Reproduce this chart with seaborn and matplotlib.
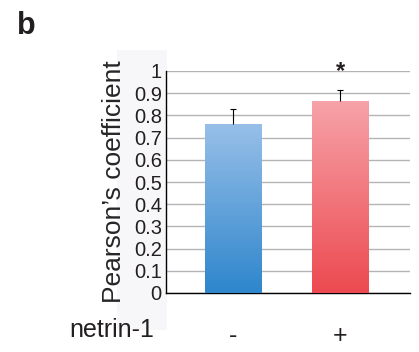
import numpy as np
import pandas as pd
import seaborn as sns
import matplotlib.pyplot as plt
from matplotlib.colors import LinearSegmentedColormap

# data
conditions = ['-', '+']
means = [0.76, 0.865]
errors = [0.07, 0.05]
yticks = [0, 0.1, 0.2, 0.3, 0.4, 0.5, 0.6, 0.7, 0.8, 0.9, 1]
ytick_labels = ['0', '0.1', '0.2', '0.3', '0.4', '0.5', '0.6', '0.7', '0.8', '0.9', '1']
# gradient colours (bottom, top)
bar_colors = [('#2e86cc', '#97bfe8'), ('#ec4a50', '#f6a3a9')]

sns.set_style('white')
plt.rcParams['font.family'] = ['Liberation Sans', 'DejaVu Sans']
plt.rcParams['text.color'] = '#231f20'
plt.rcParams['ytick.color'] = '#231f20'
plt.rcParams['xtick.color'] = '#231f20'

fig = plt.figure(figsize=(4.19, 3.52), dpi=100)
# faint grey panel behind the y label
bg = fig.add_axes([117/419, 1-330/352, 50/419, 280/352], zorder=-1)
bg.set_axis_off()
bg.add_patch(plt.Rectangle((0, 0), 1, 1, transform=bg.transAxes, color='#f7f7f9'))

ax = fig.add_axes([166/419, 1-293/352, 244/419, 222/352])
ax.patch.set_alpha(0)

df = pd.DataFrame({'netrin': conditions, 'pearson': means})
sns.barplot(data=df, x='netrin', y='pearson', width=0.53, color='white', ax=ax, zorder=2)

# vertical gradient fill clipped to each bar
for patch, (c0, c1) in zip(ax.patches, bar_colors):
    cmap = LinearSegmentedColormap.from_list('g', [c0, c1])
    x0, y0 = patch.get_x(), patch.get_y()
    w, h = patch.get_width(), patch.get_height()
    grad = np.linspace(0, 1, 256).reshape(-1, 1)
    im = ax.imshow(grad, cmap=cmap, origin='lower', aspect='auto',
                   extent=[x0, x0 + w, y0, y0 + h], zorder=3)
    im.set_clip_path(patch)
    patch.set_edgecolor('none')

# upper error bars only
eb = ax.errorbar(range(len(means)), means, yerr=[[0, 0], errors], fmt='none',
                 ecolor='black', elinewidth=0.8, capsize=2.5, capthick=0.8, zorder=4)
eb[1][0].set_visible(False)

ax.text(1, 0.97, '*', ha='center', va='baseline', fontsize=17, fontweight='bold',
        clip_on=False)

ax.set_xlim(-0.626, 1.654)
ax.set_ylim(0, 1)
ax.set_yticks(yticks)
ax.set_yticklabels(ytick_labels, fontsize=14.5)
ax.yaxis.grid(True, color='#b4b4b4', linewidth=1)
ax.set_axisbelow(True)
ax.tick_params(axis='y', length=0, pad=3)
ax.tick_params(axis='x', length=0, pad=22, labelsize=18)
ax.set_xlabel('')
ax.set_ylabel("Pearson\u2019s coefficient", fontsize=19, labelpad=6)
for s in ['top', 'right']:
    ax.spines[s].set_visible(False)
for s in ['left', 'bottom']:
    ax.spines[s].set_color('black')
    ax.spines[s].set_linewidth(1)

fig.text(112/419, 1-330/352, 'netrin-1', fontsize=18, ha='center', va='center')
fig.text(17/419, 1-26/352, 'b', fontsize=22, fontweight='bold', va='center')

fig.savefig('out.png', dpi=100)
